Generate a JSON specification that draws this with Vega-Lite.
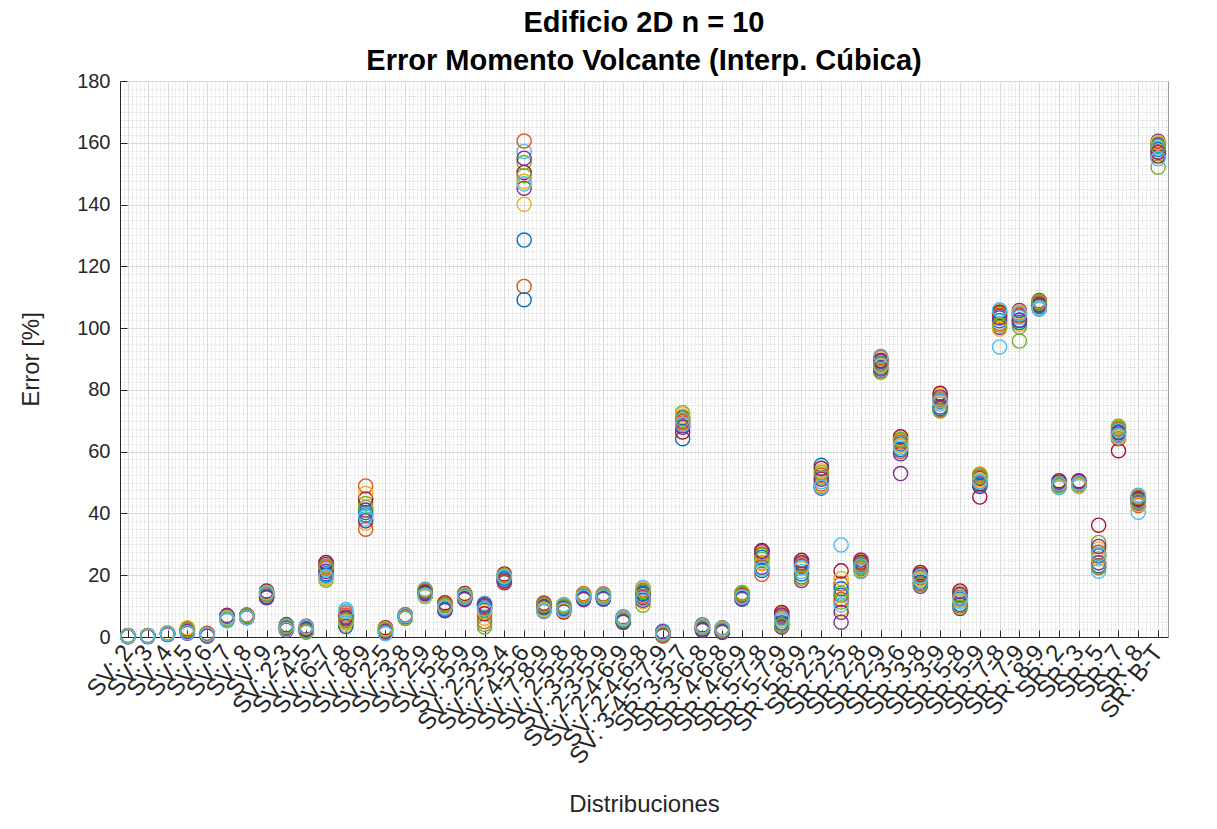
{
"$schema": "https://vega.github.io/schema/vega-lite/v6.json",
"width": 1048, "height": 556,
"autosize": {"type": "none"},
"padding": {"left": 120, "top": 81, "right": 49, "bottom": 192},
"background": "white",
"title": {"text": ["Edificio 2D n = 10", "Error Momento Volcante (Interp. Cúbica)"], "font": "Liberation Sans", "fontSize": 29, "fontWeight": "bold", "color": "#000000", "lineHeight": 38, "offset": -5, "anchor": "middle", "frame": "group"},
"data": {"values": [
{"i":1,"r":1,"e":0.3},{"i":1,"r":2,"e":0.2},{"i":1,"r":3,"e":0.4},{"i":1,"r":4,"e":0.1},{"i":1,"r":5,"e":0.3},{"i":1,"r":6,"e":0.2},{"i":1,"r":7,"e":0.5},{"i":1,"r":8,"e":0.3},{"i":1,"r":9,"e":0.2},{"i":1,"r":10,"e":0.4},{"i":1,"r":11,"e":0.1},{"i":1,"r":12,"e":0.3},{"i":1,"r":13,"e":0.2},
{"i":2,"r":1,"e":0.4},{"i":2,"r":2,"e":0.3},{"i":2,"r":3,"e":0.5},{"i":2,"r":4,"e":0.2},{"i":2,"r":5,"e":0.3},{"i":2,"r":6,"e":0.4},{"i":2,"r":7,"e":0.2},{"i":2,"r":8,"e":0.3},{"i":2,"r":9,"e":0.5},{"i":2,"r":10,"e":0.3},{"i":2,"r":11,"e":0.2},{"i":2,"r":12,"e":0.4},{"i":2,"r":13,"e":0.3},
{"i":3,"r":1,"e":1.1},{"i":3,"r":2,"e":0.9},{"i":3,"r":3,"e":1.3},{"i":3,"r":4,"e":0.8},{"i":3,"r":5,"e":1.0},{"i":3,"r":6,"e":1.2},{"i":3,"r":7,"e":0.9},{"i":3,"r":8,"e":1.1},{"i":3,"r":9,"e":1.0},{"i":3,"r":10,"e":1.4},{"i":3,"r":11,"e":0.8},{"i":3,"r":12,"e":1.2},{"i":3,"r":13,"e":1.0},
{"i":4,"r":1,"e":2.1},{"i":4,"r":2,"e":1.6},{"i":4,"r":3,"e":2.8},{"i":4,"r":4,"e":1.2},{"i":4,"r":5,"e":2.4},{"i":4,"r":6,"e":1.9},{"i":4,"r":7,"e":2.6},{"i":4,"r":8,"e":1.5},{"i":4,"r":9,"e":2.2},{"i":4,"r":10,"e":3.0},{"i":4,"r":11,"e":1.8},{"i":4,"r":12,"e":2.3},{"i":4,"r":13,"e":1.4},
{"i":5,"r":1,"e":0.6},{"i":5,"r":2,"e":0.9},{"i":5,"r":3,"e":0.4},{"i":5,"r":4,"e":1.1},{"i":5,"r":5,"e":0.5},{"i":5,"r":6,"e":0.8},{"i":5,"r":7,"e":0.3},{"i":5,"r":8,"e":0.7},{"i":5,"r":9,"e":1.2},{"i":5,"r":10,"e":0.6},{"i":5,"r":11,"e":0.4},{"i":5,"r":12,"e":0.9},{"i":5,"r":13,"e":0.7},
{"i":6,"r":1,"e":6.2},{"i":6,"r":2,"e":5.6},{"i":6,"r":3,"e":6.8},{"i":6,"r":4,"e":5.9},{"i":6,"r":5,"e":6.4},{"i":6,"r":6,"e":5.3},{"i":6,"r":7,"e":6.1},{"i":6,"r":8,"e":6.6},{"i":6,"r":9,"e":5.8},{"i":6,"r":10,"e":6.3},{"i":6,"r":11,"e":7.0},{"i":6,"r":12,"e":5.7},{"i":6,"r":13,"e":6.0},
{"i":7,"r":1,"e":6.6},{"i":7,"r":2,"e":6.9},{"i":7,"r":3,"e":6.3},{"i":7,"r":4,"e":7.1},{"i":7,"r":5,"e":6.5},{"i":7,"r":6,"e":6.8},{"i":7,"r":7,"e":6.2},{"i":7,"r":8,"e":6.7},{"i":7,"r":9,"e":7.0},{"i":7,"r":10,"e":6.4},{"i":7,"r":11,"e":6.6},{"i":7,"r":12,"e":6.9},{"i":7,"r":13,"e":6.3},
{"i":8,"r":1,"e":13.8},{"i":8,"r":2,"e":14.6},{"i":8,"r":3,"e":13.2},{"i":8,"r":4,"e":12.9},{"i":8,"r":5,"e":14.1},{"i":8,"r":6,"e":13.5},{"i":8,"r":7,"e":14.9},{"i":8,"r":8,"e":13.0},{"i":8,"r":9,"e":13.7},{"i":8,"r":10,"e":14.3},{"i":8,"r":11,"e":12.7},{"i":8,"r":12,"e":13.9},{"i":8,"r":13,"e":14.4},
{"i":9,"r":1,"e":3.2},{"i":9,"r":2,"e":2.6},{"i":9,"r":3,"e":3.8},{"i":9,"r":4,"e":2.2},{"i":9,"r":5,"e":3.5},{"i":9,"r":6,"e":2.9},{"i":9,"r":7,"e":3.1},{"i":9,"r":8,"e":4.0},{"i":9,"r":9,"e":2.4},{"i":9,"r":10,"e":3.3},{"i":9,"r":11,"e":2.8},{"i":9,"r":12,"e":3.6},{"i":9,"r":13,"e":2.5},
{"i":10,"r":1,"e":2.6},{"i":10,"r":2,"e":1.8},{"i":10,"r":3,"e":3.2},{"i":10,"r":4,"e":2.2},{"i":10,"r":5,"e":2.9},{"i":10,"r":6,"e":1.5},{"i":10,"r":7,"e":3.5},{"i":10,"r":8,"e":2.4},{"i":10,"r":9,"e":2.0},{"i":10,"r":10,"e":3.0},{"i":10,"r":11,"e":2.7},{"i":10,"r":12,"e":1.7},{"i":10,"r":13,"e":3.3},
{"i":11,"r":1,"e":20.5},{"i":11,"r":2,"e":22.8},{"i":11,"r":3,"e":19.1},{"i":11,"r":4,"e":23.5},{"i":11,"r":5,"e":18.4},{"i":11,"r":6,"e":21.7},{"i":11,"r":7,"e":24.1},{"i":11,"r":8,"e":20.0},{"i":11,"r":9,"e":22.3},{"i":11,"r":10,"e":18.9},{"i":11,"r":11,"e":21.2},{"i":11,"r":12,"e":23.0},{"i":11,"r":13,"e":19.6},
{"i":12,"r":1,"e":5.2},{"i":12,"r":2,"e":7.8},{"i":12,"r":3,"e":3.9},{"i":12,"r":4,"e":6.5},{"i":12,"r":5,"e":4.6},{"i":12,"r":6,"e":8.9},{"i":12,"r":7,"e":5.8},{"i":12,"r":8,"e":3.4},{"i":12,"r":9,"e":7.1},{"i":12,"r":10,"e":4.9},{"i":12,"r":11,"e":6.2},{"i":12,"r":12,"e":5.5},{"i":12,"r":13,"e":8.3},
{"i":13,"r":1,"e":39.5},{"i":13,"r":2,"e":48.9},{"i":13,"r":3,"e":36.8},{"i":13,"r":4,"e":41.1},{"i":13,"r":5,"e":43.2},{"i":13,"r":6,"e":38.2},{"i":13,"r":7,"e":44.7},{"i":13,"r":8,"e":40.3},{"i":13,"r":9,"e":34.9},{"i":13,"r":10,"e":46.5},{"i":13,"r":11,"e":37.6},{"i":13,"r":12,"e":42.0},{"i":13,"r":13,"e":39.0},
{"i":14,"r":1,"e":2.1},{"i":14,"r":2,"e":1.5},{"i":14,"r":3,"e":2.7},{"i":14,"r":4,"e":1.2},{"i":14,"r":5,"e":2.4},{"i":14,"r":6,"e":1.8},{"i":14,"r":7,"e":3.0},{"i":14,"r":8,"e":2.2},{"i":14,"r":9,"e":1.4},{"i":14,"r":10,"e":2.6},{"i":14,"r":11,"e":1.9},{"i":14,"r":12,"e":2.3},{"i":14,"r":13,"e":1.1},
{"i":15,"r":1,"e":6.5},{"i":15,"r":2,"e":6.9},{"i":15,"r":3,"e":6.2},{"i":15,"r":4,"e":7.1},{"i":15,"r":5,"e":6.6},{"i":15,"r":6,"e":6.0},{"i":15,"r":7,"e":6.8},{"i":15,"r":8,"e":6.4},{"i":15,"r":9,"e":7.2},{"i":15,"r":10,"e":6.3},{"i":15,"r":11,"e":6.7},{"i":15,"r":12,"e":6.1},{"i":15,"r":13,"e":6.9},
{"i":16,"r":1,"e":14.2},{"i":16,"r":2,"e":15.1},{"i":16,"r":3,"e":13.4},{"i":16,"r":4,"e":14.7},{"i":16,"r":5,"e":13.1},{"i":16,"r":6,"e":15.5},{"i":16,"r":7,"e":14.0},{"i":16,"r":8,"e":13.7},{"i":16,"r":9,"e":14.9},{"i":16,"r":10,"e":13.3},{"i":16,"r":11,"e":14.5},{"i":16,"r":12,"e":15.2},{"i":16,"r":13,"e":13.6},
{"i":17,"r":1,"e":10.1},{"i":17,"r":2,"e":9.2},{"i":17,"r":3,"e":10.8},{"i":17,"r":4,"e":8.7},{"i":17,"r":5,"e":10.4},{"i":17,"r":6,"e":9.6},{"i":17,"r":7,"e":11.1},{"i":17,"r":8,"e":9.0},{"i":17,"r":9,"e":10.6},{"i":17,"r":10,"e":9.8},{"i":17,"r":11,"e":8.5},{"i":17,"r":12,"e":10.3},{"i":17,"r":13,"e":9.4},
{"i":18,"r":1,"e":13.2},{"i":18,"r":2,"e":12.4},{"i":18,"r":3,"e":13.8},{"i":18,"r":4,"e":12.1},{"i":18,"r":5,"e":13.5},{"i":18,"r":6,"e":12.8},{"i":18,"r":7,"e":14.1},{"i":18,"r":8,"e":12.6},{"i":18,"r":9,"e":13.0},{"i":18,"r":10,"e":13.7},{"i":18,"r":11,"e":12.3},{"i":18,"r":12,"e":13.4},{"i":18,"r":13,"e":12.9},
{"i":19,"r":1,"e":8.7},{"i":19,"r":2,"e":10.2},{"i":19,"r":3,"e":6.1},{"i":19,"r":4,"e":9.4},{"i":19,"r":5,"e":3.2},{"i":19,"r":6,"e":10.9},{"i":19,"r":7,"e":7.5},{"i":19,"r":8,"e":9.9},{"i":19,"r":9,"e":5.0},{"i":19,"r":10,"e":8.2},{"i":19,"r":11,"e":10.5},{"i":19,"r":12,"e":4.1},{"i":19,"r":13,"e":9.1},
{"i":20,"r":1,"e":19.2},{"i":20,"r":2,"e":18.0},{"i":20,"r":3,"e":20.1},{"i":20,"r":4,"e":17.6},{"i":20,"r":5,"e":19.6},{"i":20,"r":6,"e":18.6},{"i":20,"r":7,"e":20.4},{"i":20,"r":8,"e":19.0},{"i":20,"r":9,"e":17.9},{"i":20,"r":10,"e":19.8},{"i":20,"r":11,"e":18.3},{"i":20,"r":12,"e":20.0},{"i":20,"r":13,"e":19.4},
{"i":21,"r":1,"e":128.5},{"i":21,"r":2,"e":113.5},{"i":21,"r":3,"e":140.1},{"i":21,"r":4,"e":145.3},{"i":21,"r":5,"e":153.6},{"i":21,"r":6,"e":157.2},{"i":21,"r":7,"e":150.4},{"i":21,"r":8,"e":109.2},{"i":21,"r":9,"e":160.6},{"i":21,"r":10,"e":147.5},{"i":21,"r":11,"e":155.0},{"i":21,"r":12,"e":149.3},{"i":21,"r":13,"e":146.7},
{"i":22,"r":1,"e":9.4},{"i":22,"r":2,"e":10.5},{"i":22,"r":3,"e":8.6},{"i":22,"r":4,"e":11.0},{"i":22,"r":5,"e":9.0},{"i":22,"r":6,"e":10.1},{"i":22,"r":7,"e":8.3},{"i":22,"r":8,"e":9.7},{"i":22,"r":9,"e":10.8},{"i":22,"r":10,"e":8.9},{"i":22,"r":11,"e":9.9},{"i":22,"r":12,"e":10.3},{"i":22,"r":13,"e":8.4},
{"i":23,"r":1,"e":9.1},{"i":23,"r":2,"e":8.3},{"i":23,"r":3,"e":10.2},{"i":23,"r":4,"e":8.7},{"i":23,"r":5,"e":9.6},{"i":23,"r":6,"e":10.5},{"i":23,"r":7,"e":8.1},{"i":23,"r":8,"e":9.3},{"i":23,"r":9,"e":9.9},{"i":23,"r":10,"e":8.5},{"i":23,"r":11,"e":9.0},{"i":23,"r":12,"e":10.0},{"i":23,"r":13,"e":8.8},
{"i":24,"r":1,"e":13.1},{"i":24,"r":2,"e":12.4},{"i":24,"r":3,"e":13.7},{"i":24,"r":4,"e":12.1},{"i":24,"r":5,"e":13.4},{"i":24,"r":6,"e":12.8},{"i":24,"r":7,"e":14.0},{"i":24,"r":8,"e":12.6},{"i":24,"r":9,"e":13.2},{"i":24,"r":10,"e":13.8},{"i":24,"r":11,"e":12.3},{"i":24,"r":12,"e":13.5},{"i":24,"r":13,"e":12.9},
{"i":25,"r":1,"e":13.0},{"i":25,"r":2,"e":12.5},{"i":25,"r":3,"e":13.6},{"i":25,"r":4,"e":12.2},{"i":25,"r":5,"e":13.3},{"i":25,"r":6,"e":12.8},{"i":25,"r":7,"e":13.9},{"i":25,"r":8,"e":12.4},{"i":25,"r":9,"e":13.1},{"i":25,"r":10,"e":13.7},{"i":25,"r":11,"e":12.6},{"i":25,"r":12,"e":13.4},{"i":25,"r":13,"e":12.9},
{"i":26,"r":1,"e":5.6},{"i":26,"r":2,"e":5.0},{"i":26,"r":3,"e":6.2},{"i":26,"r":4,"e":4.7},{"i":26,"r":5,"e":5.9},{"i":26,"r":6,"e":5.3},{"i":26,"r":7,"e":6.5},{"i":26,"r":8,"e":4.9},{"i":26,"r":9,"e":5.7},{"i":26,"r":10,"e":6.0},{"i":26,"r":11,"e":5.2},{"i":26,"r":12,"e":5.5},{"i":26,"r":13,"e":6.3},
{"i":27,"r":1,"e":13.8},{"i":27,"r":2,"e":15.2},{"i":27,"r":3,"e":11.4},{"i":27,"r":4,"e":14.6},{"i":27,"r":5,"e":10.3},{"i":27,"r":6,"e":16.0},{"i":27,"r":7,"e":12.7},{"i":27,"r":8,"e":14.1},{"i":27,"r":9,"e":13.2},{"i":27,"r":10,"e":15.6},{"i":27,"r":11,"e":11.9},{"i":27,"r":12,"e":14.9},{"i":27,"r":13,"e":12.4},
{"i":28,"r":1,"e":1.2},{"i":28,"r":2,"e":0.6},{"i":28,"r":3,"e":1.6},{"i":28,"r":4,"e":0.3},{"i":28,"r":5,"e":1.0},{"i":28,"r":6,"e":1.9},{"i":28,"r":7,"e":0.8},{"i":28,"r":8,"e":1.4},{"i":28,"r":9,"e":0.5},{"i":28,"r":10,"e":1.1},{"i":28,"r":11,"e":1.7},{"i":28,"r":12,"e":0.9},{"i":28,"r":13,"e":1.3},
{"i":29,"r":1,"e":64.2},{"i":29,"r":2,"e":69.3},{"i":29,"r":3,"e":71.5},{"i":29,"r":4,"e":68.4},{"i":29,"r":5,"e":72.6},{"i":29,"r":6,"e":70.1},{"i":29,"r":7,"e":66.4},{"i":29,"r":8,"e":71.0},{"i":29,"r":9,"e":69.8},{"i":29,"r":10,"e":72.2},{"i":29,"r":11,"e":67.9},{"i":29,"r":12,"e":70.6},{"i":29,"r":13,"e":68.8},
{"i":30,"r":1,"e":3.1},{"i":30,"r":2,"e":2.4},{"i":30,"r":3,"e":3.7},{"i":30,"r":4,"e":2.1},{"i":30,"r":5,"e":3.4},{"i":30,"r":6,"e":2.8},{"i":30,"r":7,"e":3.9},{"i":30,"r":8,"e":2.6},{"i":30,"r":9,"e":3.2},{"i":30,"r":10,"e":3.5},{"i":30,"r":11,"e":2.3},{"i":30,"r":12,"e":3.0},{"i":30,"r":13,"e":3.6},
{"i":31,"r":1,"e":2.3},{"i":31,"r":2,"e":1.7},{"i":31,"r":3,"e":2.8},{"i":31,"r":4,"e":1.5},{"i":31,"r":5,"e":2.5},{"i":31,"r":6,"e":2.0},{"i":31,"r":7,"e":3.0},{"i":31,"r":8,"e":1.8},{"i":31,"r":9,"e":2.4},{"i":31,"r":10,"e":2.7},{"i":31,"r":11,"e":1.6},{"i":31,"r":12,"e":2.2},{"i":31,"r":13,"e":2.9},
{"i":32,"r":1,"e":13.2},{"i":32,"r":2,"e":12.5},{"i":32,"r":3,"e":13.9},{"i":32,"r":4,"e":12.2},{"i":32,"r":5,"e":14.4},{"i":32,"r":6,"e":12.8},{"i":32,"r":7,"e":13.5},{"i":32,"r":8,"e":12.4},{"i":32,"r":9,"e":13.7},{"i":32,"r":10,"e":13.0},{"i":32,"r":11,"e":12.6},{"i":32,"r":12,"e":14.1},{"i":32,"r":13,"e":12.9},
{"i":33,"r":1,"e":25.8},{"i":33,"r":2,"e":20.3},{"i":33,"r":3,"e":27.4},{"i":33,"r":4,"e":22.6},{"i":33,"r":5,"e":26.5},{"i":33,"r":6,"e":24.1},{"i":33,"r":7,"e":28.0},{"i":33,"r":8,"e":21.5},{"i":33,"r":9,"e":26.9},{"i":33,"r":10,"e":23.7},{"i":33,"r":11,"e":27.7},{"i":33,"r":12,"e":25.1},{"i":33,"r":13,"e":22.0},
{"i":34,"r":1,"e":6.2},{"i":34,"r":2,"e":4.1},{"i":34,"r":3,"e":7.5},{"i":34,"r":4,"e":3.2},{"i":34,"r":5,"e":6.8},{"i":34,"r":6,"e":5.3},{"i":34,"r":7,"e":7.9},{"i":34,"r":8,"e":4.6},{"i":34,"r":9,"e":6.5},{"i":34,"r":10,"e":5.8},{"i":34,"r":11,"e":7.1},{"i":34,"r":12,"e":3.7},{"i":34,"r":13,"e":6.0},
{"i":35,"r":1,"e":22.8},{"i":35,"r":2,"e":19.5},{"i":35,"r":3,"e":24.3},{"i":35,"r":4,"e":18.3},{"i":35,"r":5,"e":23.6},{"i":35,"r":6,"e":21.2},{"i":35,"r":7,"e":24.8},{"i":35,"r":8,"e":20.4},{"i":35,"r":9,"e":23.1},{"i":35,"r":10,"e":22.1},{"i":35,"r":11,"e":24.0},{"i":35,"r":12,"e":19.0},{"i":35,"r":13,"e":22.5},
{"i":36,"r":1,"e":55.6},{"i":36,"r":2,"e":49.5},{"i":36,"r":3,"e":53.8},{"i":36,"r":4,"e":48.2},{"i":36,"r":5,"e":51.7},{"i":36,"r":6,"e":50.3},{"i":36,"r":7,"e":54.6},{"i":36,"r":8,"e":48.8},{"i":36,"r":9,"e":52.4},{"i":36,"r":10,"e":49.0},{"i":36,"r":11,"e":51.1},{"i":36,"r":12,"e":53.2},{"i":36,"r":13,"e":48.5},
{"i":37,"r":1,"e":13.5},{"i":37,"r":2,"e":17.2},{"i":37,"r":3,"e":9.1},{"i":37,"r":4,"e":4.8},{"i":37,"r":5,"e":11.3},{"i":37,"r":6,"e":29.8},{"i":37,"r":7,"e":21.4},{"i":37,"r":8,"e":15.6},{"i":37,"r":9,"e":12.1},{"i":37,"r":10,"e":18.9},{"i":37,"r":11,"e":8.0},{"i":37,"r":12,"e":14.2},{"i":37,"r":13,"e":10.4},
{"i":38,"r":1,"e":23.2},{"i":38,"r":2,"e":21.5},{"i":38,"r":3,"e":24.6},{"i":38,"r":4,"e":22.0},{"i":38,"r":5,"e":23.8},{"i":38,"r":6,"e":21.1},{"i":38,"r":7,"e":24.2},{"i":38,"r":8,"e":22.7},{"i":38,"r":9,"e":23.5},{"i":38,"r":10,"e":21.8},{"i":38,"r":11,"e":24.9},{"i":38,"r":12,"e":22.4},{"i":38,"r":13,"e":23.0},
{"i":39,"r":1,"e":88.6},{"i":39,"r":2,"e":86.2},{"i":39,"r":3,"e":90.1},{"i":39,"r":4,"e":87.3},{"i":39,"r":5,"e":85.7},{"i":39,"r":6,"e":88.0},{"i":39,"r":7,"e":89.5},{"i":39,"r":8,"e":86.8},{"i":39,"r":9,"e":90.6},{"i":39,"r":10,"e":87.7},{"i":39,"r":11,"e":89.2},{"i":39,"r":12,"e":88.3},{"i":39,"r":13,"e":90.9},
{"i":40,"r":1,"e":62.5},{"i":40,"r":2,"e":60.1},{"i":40,"r":3,"e":64.2},{"i":40,"r":4,"e":59.3},{"i":40,"r":5,"e":63.7},{"i":40,"r":6,"e":61.8},{"i":40,"r":7,"e":64.8},{"i":40,"r":8,"e":60.7},{"i":40,"r":9,"e":63.1},{"i":40,"r":10,"e":62.0},{"i":40,"r":11,"e":52.9},{"i":40,"r":12,"e":63.9},{"i":40,"r":13,"e":61.2},
{"i":41,"r":1,"e":19.4},{"i":41,"r":2,"e":17.2},{"i":41,"r":3,"e":20.5},{"i":41,"r":4,"e":16.4},{"i":41,"r":5,"e":19.9},{"i":41,"r":6,"e":18.3},{"i":41,"r":7,"e":20.9},{"i":41,"r":8,"e":17.7},{"i":41,"r":9,"e":19.1},{"i":41,"r":10,"e":18.8},{"i":41,"r":11,"e":20.2},{"i":41,"r":12,"e":16.9},{"i":41,"r":13,"e":19.6},
{"i":42,"r":1,"e":76.2},{"i":42,"r":2,"e":73.6},{"i":42,"r":3,"e":78.4},{"i":42,"r":4,"e":74.5},{"i":42,"r":5,"e":77.3},{"i":42,"r":6,"e":75.4},{"i":42,"r":7,"e":78.9},{"i":42,"r":8,"e":74.0},{"i":42,"r":9,"e":76.8},{"i":42,"r":10,"e":75.9},{"i":42,"r":11,"e":77.7},{"i":42,"r":12,"e":73.2},{"i":42,"r":13,"e":76.5},
{"i":43,"r":1,"e":12.3},{"i":43,"r":2,"e":10.1},{"i":43,"r":3,"e":14.4},{"i":43,"r":4,"e":9.2},{"i":43,"r":5,"e":13.5},{"i":43,"r":6,"e":11.4},{"i":43,"r":7,"e":14.9},{"i":43,"r":8,"e":10.6},{"i":43,"r":9,"e":12.9},{"i":43,"r":10,"e":11.8},{"i":43,"r":11,"e":13.8},{"i":43,"r":12,"e":9.6},{"i":43,"r":13,"e":12.6},
{"i":44,"r":1,"e":51.3},{"i":44,"r":2,"e":49.6},{"i":44,"r":3,"e":52.8},{"i":44,"r":4,"e":48.7},{"i":44,"r":5,"e":52.2},{"i":44,"r":6,"e":50.4},{"i":44,"r":7,"e":45.3},{"i":44,"r":8,"e":49.2},{"i":44,"r":9,"e":51.7},{"i":44,"r":10,"e":50.9},{"i":44,"r":11,"e":50.0},{"i":44,"r":12,"e":52.5},{"i":44,"r":13,"e":50.1},
{"i":45,"r":1,"e":103.8},{"i":45,"r":2,"e":101.5},{"i":45,"r":3,"e":105.6},{"i":45,"r":4,"e":100.3},{"i":45,"r":5,"e":104.7},{"i":45,"r":6,"e":93.9},{"i":45,"r":7,"e":105.1},{"i":45,"r":8,"e":102.4},{"i":45,"r":9,"e":104.2},{"i":45,"r":10,"e":99.7},{"i":45,"r":11,"e":103.3},{"i":45,"r":12,"e":101.0},{"i":45,"r":13,"e":105.9},
{"i":46,"r":1,"e":102.6},{"i":46,"r":2,"e":104.9},{"i":46,"r":3,"e":101.2},{"i":46,"r":4,"e":105.7},{"i":46,"r":5,"e":100.4},{"i":46,"r":6,"e":103.5},{"i":46,"r":7,"e":104.3},{"i":46,"r":8,"e":101.8},{"i":46,"r":9,"e":103.9},{"i":46,"r":10,"e":105.2},{"i":46,"r":11,"e":102.5},{"i":46,"r":12,"e":95.8},{"i":46,"r":13,"e":104.6},
{"i":47,"r":1,"e":107.4},{"i":47,"r":2,"e":106.3},{"i":47,"r":3,"e":108.5},{"i":47,"r":4,"e":106.8},{"i":47,"r":5,"e":107.9},{"i":47,"r":6,"e":106.1},{"i":47,"r":7,"e":108.9},{"i":47,"r":8,"e":107.1},{"i":47,"r":9,"e":108.2},{"i":47,"r":10,"e":106.6},{"i":47,"r":11,"e":107.6},{"i":47,"r":12,"e":108.7},{"i":47,"r":13,"e":106.4},
{"i":48,"r":1,"e":49.4},{"i":48,"r":2,"e":48.5},{"i":48,"r":3,"e":50.3},{"i":48,"r":4,"e":48.8},{"i":48,"r":5,"e":49.9},{"i":48,"r":6,"e":48.3},{"i":48,"r":7,"e":50.6},{"i":48,"r":8,"e":49.1},{"i":48,"r":9,"e":49.7},{"i":48,"r":10,"e":48.7},{"i":48,"r":11,"e":50.1},{"i":48,"r":12,"e":49.0},{"i":48,"r":13,"e":49.6},
{"i":49,"r":1,"e":49.6},{"i":49,"r":2,"e":48.9},{"i":49,"r":3,"e":50.4},{"i":49,"r":4,"e":49.2},{"i":49,"r":5,"e":50.1},{"i":49,"r":6,"e":48.7},{"i":49,"r":7,"e":50.6},{"i":49,"r":8,"e":49.4},{"i":49,"r":9,"e":49.9},{"i":49,"r":10,"e":49.0},{"i":49,"r":11,"e":50.3},{"i":49,"r":12,"e":49.5},{"i":49,"r":13,"e":49.8},
{"i":50,"r":1,"e":26.2},{"i":50,"r":2,"e":22.4},{"i":50,"r":3,"e":28.5},{"i":50,"r":4,"e":24.0},{"i":50,"r":5,"e":30.6},{"i":50,"r":6,"e":21.3},{"i":50,"r":7,"e":36.2},{"i":50,"r":8,"e":23.1},{"i":50,"r":9,"e":27.4},{"i":50,"r":10,"e":25.3},{"i":50,"r":11,"e":29.3},{"i":50,"r":12,"e":22.7},{"i":50,"r":13,"e":26.8},
{"i":51,"r":1,"e":66.4},{"i":51,"r":2,"e":64.2},{"i":51,"r":3,"e":67.8},{"i":51,"r":4,"e":65.1},{"i":51,"r":5,"e":68.2},{"i":51,"r":6,"e":66.9},{"i":51,"r":7,"e":60.3},{"i":51,"r":8,"e":65.6},{"i":51,"r":9,"e":67.3},{"i":51,"r":10,"e":64.8},{"i":51,"r":11,"e":66.1},{"i":51,"r":12,"e":67.6},{"i":51,"r":13,"e":65.3},
{"i":52,"r":1,"e":44.2},{"i":52,"r":2,"e":42.6},{"i":52,"r":3,"e":45.5},{"i":52,"r":4,"e":43.1},{"i":52,"r":5,"e":45.9},{"i":52,"r":6,"e":40.4},{"i":52,"r":7,"e":44.8},{"i":52,"r":8,"e":43.6},{"i":52,"r":9,"e":45.2},{"i":52,"r":10,"e":42.9},{"i":52,"r":11,"e":44.5},{"i":52,"r":12,"e":43.9},{"i":52,"r":13,"e":45.7},
{"i":53,"r":1,"e":157.8},{"i":53,"r":2,"e":159.6},{"i":53,"r":3,"e":156.4},{"i":53,"r":4,"e":160.5},{"i":53,"r":5,"e":152.1},{"i":53,"r":6,"e":158.3},{"i":53,"r":7,"e":155.7},{"i":53,"r":8,"e":159.1},{"i":53,"r":9,"e":157.1},{"i":53,"r":10,"e":160.1},{"i":53,"r":11,"e":156.9},{"i":53,"r":12,"e":158.8},{"i":53,"r":13,"e":154.9}
]},
"layer": [
{"mark": {"type": "point", "opacity": 0},
 "encoding": {
  "x": {"field": "i", "type": "quantitative", "scale": {"domain": [0.6, 53.5], "nice": false, "zero": false},
        "axis": {"orient": "top", "tickCount": 265, "grid": true, "gridColor": "#c0c0c0", "gridDash": [1, 2], "gridWidth": 0.8, "labels": false, "ticks": false, "domain": false, "title": null}},
  "y": {"field": "e", "type": "quantitative", "scale": {"domain": [0, 180], "nice": false, "zero": true},
        "axis": {"orient": "right", "values": [0,2.5,5,7.5,10,12.5,15,17.5,20,22.5,25,27.5,30,32.5,35,37.5,40,42.5,45,47.5,50,52.5,55,57.5,60,62.5,65,67.5,70,72.5,75,77.5,80,82.5,85,87.5,90,92.5,95,97.5,100,102.5,105,107.5,110,112.5,115,117.5,120,122.5,125,127.5,130,132.5,135,137.5,140,142.5,145,147.5,150,152.5,155,157.5,160,162.5,165,167.5,170,172.5,175,177.5,180], "grid": true, "gridColor": "#c0c0c0", "gridDash": [1, 2], "gridWidth": 0.8, "labels": false, "ticks": false, "domain": false, "title": null}}
 }},
{"mark": {"type": "point", "shape": "circle", "filled": false, "size": 200, "strokeWidth": 1.4, "opacity": 1},
 "encoding": {
  "x": {"field": "i", "type": "quantitative", "scale": {"domain": [0.6, 53.5], "nice": false, "zero": false},
        "axis": {"orient": "bottom", "values": [1,2,3,4,5,6,7,8,9,10,11,12,13,14,15,16,17,18,19,20,21,22,23,24,25,26,27,28,29,30,31,32,33,34,35,36,37,38,39,40,41,42,43,44,45,46,47,48,49,50,51,52,53],
                 "labelExpr": "['SV: 2','SV: 3','SV: 4','SV: 5','SV: 6','SV: 7','SV: 8','SV: 9','SV: 2-3','SV: 4-5','SV: 6-7','SV: 7-8','SV: 8-9','SV: 2-5','SV: 3-8','SV: 2-9','SV: 5-8','SV: 5-9','SV: 2-3-9','SV: 2-3-4','SV: 4-5-6','SV: 7-8-9','SV: 2-5-8','SV: 3-5-8','SV: 2-3-5-9','SV: 2-4-6-9','SV: 2-4-6-8','SV: 3-4-5-7-9','SR: 3-5-7','SR: 3-6-8','SR: 4-6-8','SR: 4-6-9','SR: 5-7-8','SR: 5-7-9','SR: 5-8-9','SR: 2-3','SR: 2-5','SR: 2-8','SR: 2-9','SR: 3-6','SR: 3-8','SR: 3-9','SR: 5-8','SR: 5-9','SR: 7-8','SR: 7-9','SR: 8-9','SR: 2','SR: 3','SR: 5','SR: 7','SR: 8','SR: B-T'][datum.value - 1]",
                 "labelAngle": -52, "labelAlign": "right", "labelBaseline": "middle", "labelFont": "Liberation Sans", "labelFontSize": 24, "labelColor": "#262626", "labelPadding": 18, "labelOverlap": false, "labelFlush": false, "labelBound": false,
                 "tickSize": -7, "tickColor": "#262626", "domainColor": "#262626", "grid": true, "gridColor": "#dadada",
                 "title": "Distribuciones", "titleFont": "Liberation Sans", "titleFontSize": 24, "titleFontWeight": "normal", "titleColor": "#262626", "titlePadding": 24}},
  "y": {"field": "e", "type": "quantitative", "scale": {"domain": [0, 180], "nice": false, "zero": true},
        "axis": {"orient": "left", "values": [0,20,40,60,80,100,120,140,160,180], "labelFont": "Liberation Sans", "labelFontSize": 20, "labelColor": "#262626", "labelPadding": 17,
                 "tickSize": -7, "tickColor": "#262626", "domainColor": "#262626", "grid": true, "gridColor": "#dadada",
                 "title": "Error [%]", "titleFont": "Liberation Sans", "titleFontSize": 24, "titleFontWeight": "normal", "titleColor": "#262626", "titlePadding": 33}},
  "color": {"field": "r", "type": "nominal", "legend": null,
            "scale": {"domain": [1,2,3,4,5,6,7,8,9,10,11,12,13], "range": ["#0072BD","#D95319","#EDB120","#7E2F8E","#77AC30","#4DBEEE","#A2142F","#0072BD","#D95319","#EDB120","#7E2F8E","#77AC30","#4DBEEE"]}}
 }}
],
"resolve": {"axis": {"x": "independent", "y": "independent"}},
"config": {"view": {"stroke": "#9a9a9a"}}
}
